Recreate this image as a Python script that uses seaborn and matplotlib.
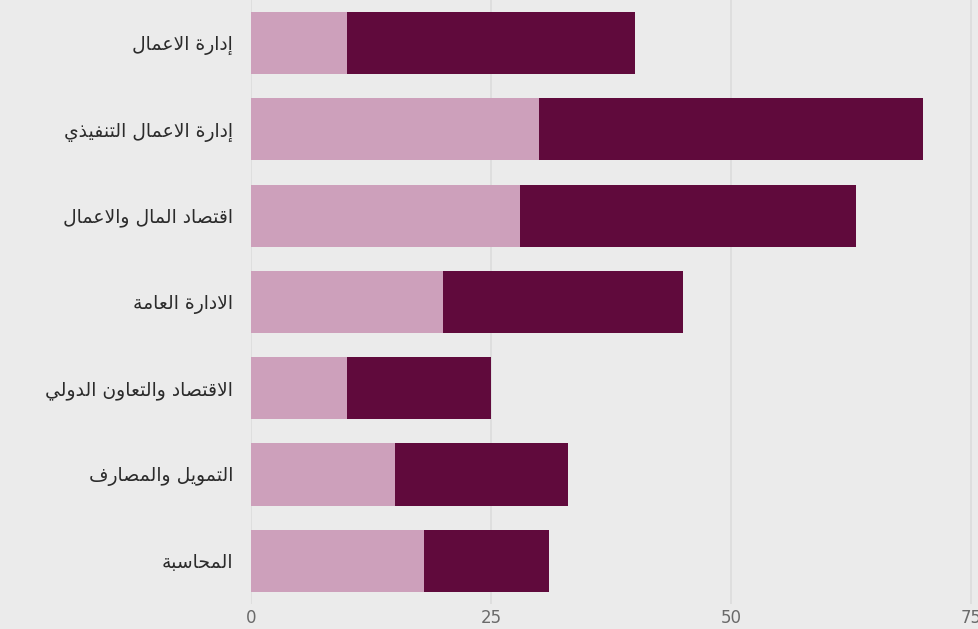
import matplotlib
matplotlib.use("Agg")
import matplotlib.pyplot as plt
import seaborn as sns
import pandas as pd

# Data
categories = [
    "إدارة الاعمال",
    "إدارة الاعمال التنفيذي",
    "اقتصاد المال والاعمال",
    "الادارة العامة",
    "الاقتصاد والتعاون الدولي",
    "التمويل والمصارف",
    "المحاسبة",
]
light_values = [10, 30, 28, 20, 10, 15, 18]
dark_values = [30, 40, 35, 25, 15, 18, 13]
x_ticks = [0, 25, 50, 75]

LIGHT = "#cda0bb"
DARK = "#600a3c"
BG = "#ebebeb"

# --- minimal Arabic shaping (matplotlib has no text shaping) ---
# isolated, final, initial, medial
FORMS = {
    "\u0627": (0xFE8D, 0xFE8E, None, None),
    "\u0623": (0xFE83, 0xFE84, None, None),
    "\u0625": (0xFE87, 0xFE88, None, None),
    "\u0628": (0xFE8F, 0xFE90, 0xFE91, 0xFE92),
    "\u0629": (0xFE93, 0xFE94, None, None),
    "\u062A": (0xFE95, 0xFE96, 0xFE97, 0xFE98),
    "\u062D": (0xFEA1, 0xFEA2, 0xFEA3, 0xFEA4),
    "\u062F": (0xFEA9, 0xFEAA, None, None),
    "\u0630": (0xFEAB, 0xFEAC, None, None),
    "\u0631": (0xFEAD, 0xFEAE, None, None),
    "\u0633": (0xFEB1, 0xFEB2, 0xFEB3, 0xFEB4),
    "\u0635": (0xFEB9, 0xFEBA, 0xFEBB, 0xFEBC),
    "\u0639": (0xFEC9, 0xFECA, 0xFECB, 0xFECC),
    "\u0641": (0xFED1, 0xFED2, 0xFED3, 0xFED4),
    "\u0642": (0xFED5, 0xFED6, 0xFED7, 0xFED8),
    "\u0644": (0xFEDD, 0xFEDE, 0xFEDF, 0xFEE0),
    "\u0645": (0xFEE1, 0xFEE2, 0xFEE3, 0xFEE4),
    "\u0646": (0xFEE5, 0xFEE6, 0xFEE7, 0xFEE8),
    "\u0648": (0xFEED, 0xFEEE, None, None),
    "\u064A": (0xFEF1, 0xFEF2, 0xFEF3, 0xFEF4),
}
LAM_ALEF = {"\u0627": (0xFEFB, 0xFEFC), "\u0623": (0xFEF7, 0xFEF8), "\u0625": (0xFEF9, 0xFEFA)}


def dual(c):
    return c in FORMS and FORMS[c][2] is not None


def shape(text):
    out = []
    i = 0
    n = len(text)
    while i < n:
        c = text[i]
        if c not in FORMS:
            out.append(c)
            i += 1
            continue
        prev = text[i - 1] if i > 0 else ""
        joins_prev = dual(prev)
        if c == "\u0644" and i + 1 < n and text[i + 1] in LAM_ALEF:
            iso, fin = LAM_ALEF[text[i + 1]]
            out.append(chr(fin if joins_prev else iso))
            i += 2
            continue
        nxt = text[i + 1] if i + 1 < n else ""
        joins_next = dual(c) and nxt in FORMS
        iso, fin, ini, med = FORMS[c]
        if joins_prev and joins_next:
            code = med
        elif joins_prev:
            code = fin
        elif joins_next:
            code = ini
        else:
            code = iso
        out.append(chr(code))
        i += 1
    return "".join(out)[::-1]


labels = [shape(c) for c in categories]

df = pd.DataFrame({
    "label": labels,
    "light": light_values,
    "dark": dark_values,
})
df["total"] = df["light"] + df["dark"]

sns.set_theme(style="whitegrid")
plt.rcParams["font.family"] = ["DejaVu Sans"]

fig = plt.figure(figsize=(9.79, 6.29), dpi=100, facecolor=BG)
ax = fig.add_axes([251 / 979, 0.040, 1 - 251 / 979, 0.960])
ax.set_facecolor(BG)

sns.barplot(data=df, y="label", x="total", color=DARK, orient="h",
            width=0.72, saturation=1, linewidth=0, ax=ax)
sns.barplot(data=df, y="label", x="light", color=LIGHT, orient="h",
            width=0.72, saturation=1, linewidth=0, ax=ax)

ax.set_xlim(0, 75.8)
ax.set_xticks(x_ticks)
ax.set_xlabel("")
ax.set_ylabel("")
ax.grid(axis="x", color="#dcdcdc", linewidth=1.2)
ax.grid(axis="y", visible=False)
ax.set_axisbelow(True)
for s in ax.spines.values():
    s.set_visible(False)
ax.tick_params(axis="both", length=0)
ax.tick_params(axis="x", labelsize=12, labelcolor="#6a6a6a", pad=4)
ax.tick_params(axis="y", labelsize=13.5, labelcolor="#2b2b2b", pad=13)

fig.savefig("out.png", dpi=100, facecolor=BG)
